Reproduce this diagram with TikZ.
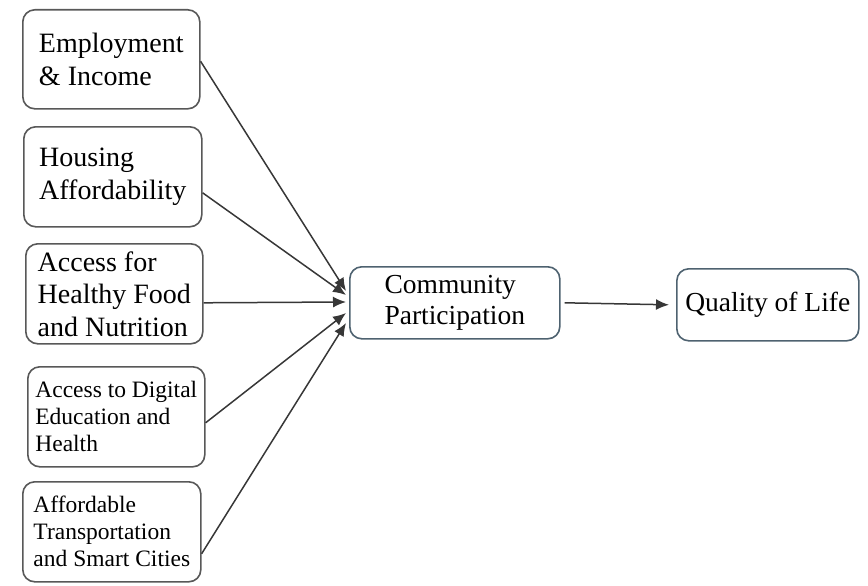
\documentclass[tikz,border=0pt]{standalone}
\usepackage{fontspec}
\setmainfont{Liberation Serif}
\usetikzlibrary{arrows.meta}
\definecolor{boxgray}{RGB}{88,88,88}
\definecolor{boxblue}{RGB}{78,98,112}
\definecolor{linegray}{RGB}{55,55,55}
\tikzstyle{factor}=[draw=boxgray,line width=1.6pt,rounded corners=12pt,anchor=north west,
  minimum width=177pt,minimum height=99pt,align=left,inner sep=0pt,
  font=\fontsize{28}{32.5}\selectfont]
\tikzstyle{small}=[font=\fontsize{23.5}{27}\selectfont]
\tikzstyle{outcome}=[draw=boxblue,line width=1.6pt,rounded corners=12pt,anchor=north west,
  minimum height=72pt,align=left,inner sep=0pt,font=\fontsize{27.5}{30.5}\selectfont]
\tikzstyle{link}=[draw=linegray,line width=1.5pt,-{Latex[length=13pt,width=11pt]}]

\begin{document}
\begin{tikzpicture}[x=1pt,y=-1pt]
  \useasboundingbox (0,0) rectangle (868,586);
  % factors
  \node[factor] (employ) at (22,9) {Employment\\\& Income};
  \node[factor,minimum width=178pt,minimum height=100pt] (housing) at (23,126) {Housing\\Affordability};
  \node[factor,minimum height=100pt] (food) at (25,243) {Access for\\Healthy Food\\and Nutrition};
  \node[factor,small,minimum height=100pt] (digital) at (27,366) {Access to Digital\\Education and\\Health};
  \node[factor,small,minimum width=178pt,minimum height=100pt] (transport) at (22,481) {Affordable\\Transportation\\and Smart Cities};
  % mediator and outcome
  \node[outcome,minimum width=210pt] (comm) at (349,266) {Community\\Participation};
  \node[outcome,minimum width=182pt,align=center] (qol) at (676,268) {Quality of Life};
  % arrow ends
  \coordinate (t1) at (346,291);
  \coordinate (t2) at (346,295);
  \coordinate (t3) at (346,302);
  \coordinate (t4) at (346,313);
  \coordinate (t5) at (346,323);
  \draw[link] ([yshift=-2pt]employ.east) -- (t1);
  \draw[link] ([yshift=-16pt]housing.east) -- (t2);
  \draw[link] ([yshift=-9pt]food.east) -- (t3);
  \draw[link] ([yshift=-6pt]digital.east) -- (t4);
  \draw[link] ([yshift=-22pt]transport.east) -- (t5);
  \draw[link] ([xshift=4pt]comm.east) -- ([xshift=-7pt]qol.west);
\end{tikzpicture}
\end{document}
